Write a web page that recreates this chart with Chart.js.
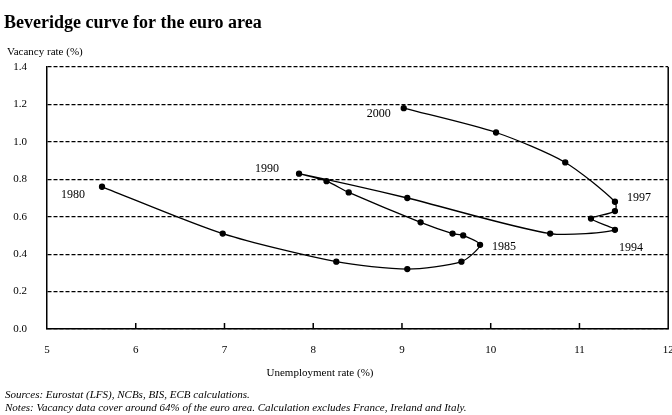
<!DOCTYPE html>
<html>
<head>
<meta charset="utf-8">
<script src="https://cdn.jsdelivr.net/npm/chart.js@4"></script>
<style>
  html, body { margin: 0; padding: 0; background: #fff; }
  #wrap { width: 672px; height: 415px; position: relative; }
</style>
</head>
<body>
<div id="wrap"><canvas id="grafico"></canvas></div>
<script>
// unemployment rate (%) and vacancy rate (%), 1980 -> 2000
const unemployment = [5.62, 6.98, 8.26, 9.06, 9.67, 9.88, 9.69, 9.57, 9.21, 8.40, 8.15, 7.84, 9.06, 10.67, 11.40, 11.13, 11.40, 11.40, 10.84, 10.06, 9.02];
const vacancy = [0.76, 0.51, 0.36, 0.32, 0.36, 0.45, 0.50, 0.51, 0.57, 0.73, 0.79, 0.83, 0.70, 0.51, 0.53, 0.59, 0.63, 0.68, 0.89, 1.05, 1.18];
const yearLabels = [
    { i: 0, text: '1980', dx: -29, dy: 8 },
    { i: 5, text: '1985', dx: 24, dy: 2 },
    { i: 11, text: '1990', dx: -32, dy: -5 },
    { i: 14, text: '1994', dx: 16, dy: 18 },
    { i: 17, text: '1997', dx: 24, dy: -4 },
    { i: 20, text: '2000', dx: -25, dy: 6 }
];
const xTicks = [5, 6, 7, 8, 9, 10, 11, 12];
const yTicks = [0.0, 0.2, 0.4, 0.6, 0.8, 1.0, 1.2, 1.4];

const SERIF = '"Liberation Serif", "DejaVu Serif", serif';

const textos = {
    id: 'textos',
    afterDraw(chart) {
        const c = chart.ctx;
        const area = chart.chartArea;
        const x = chart.scales.x, y = chart.scales.y;
        c.save();
        c.fillStyle = '#000';
        c.textBaseline = 'middle';

        // title + axis captions
        c.textAlign = 'left';
        c.font = 'bold 18px ' + SERIF;
        c.fillText('Beveridge curve for the euro area', 4, 23);
        c.font = '11px ' + SERIF;
        c.fillText('Vacancy rate (%)', 7, 52);
        c.textAlign = 'center';
        c.fillText('Unemployment rate (%)', 320, 373);

        // sources / notes
        c.textAlign = 'left';
        c.font = 'italic 11px ' + SERIF;
        c.fillText('Sources: Eurostat (LFS), NCBs, BIS, ECB calculations.', 5, 395);
        c.fillText('Notes: Vacancy data cover around 64% of the euro area. Calculation excludes France, Ireland and Italy.', 5, 408);

        // year labels next to points
        c.textAlign = 'center';
        c.font = '12px ' + SERIF;
        yearLabels.forEach(l => {
            const px = x.getPixelForValue(unemployment[l.i]);
            const py = y.getPixelForValue(vacancy[l.i]);
            c.fillText(l.text, px + l.dx, py + l.dy);
        });

        // right frame line and small inside ticks on x axis
        c.strokeStyle = '#000';
        c.lineWidth = 1.5;
        c.beginPath();
        c.moveTo(area.right, area.top);
        c.lineTo(area.right, area.bottom);
        xTicks.slice(1, -1).forEach(v => {
            const px = x.getPixelForValue(v);
            c.moveTo(px, area.bottom);
            c.lineTo(px, area.bottom - 6);
        });
        c.stroke();
        c.restore();
    }
};

const ctx = document.getElementById('grafico').getContext('2d');
const myChart = new Chart(ctx, {
    type: 'scatter',
    data: {
        datasets: [{
            data: unemployment.map((u, i) => ({ x: u, y: vacancy[i] })),
            showLine: true,
            borderColor: '#000',
            backgroundColor: '#000',
            borderWidth: 1.3,
            pointRadius: 2.5,
            pointHoverRadius: 2.5,
            tension: 0.25
        }]
    },
    options: {
        responsive: true,
        maintainAspectRatio: false,
        animation: false,
        events: [],
        layout: { padding: { left: 0, right: 2, top: 67, bottom: 35 } },
        plugins: {
            legend: { display: false },
            tooltip: { enabled: false }
        },
        scales: {
            x: {
                type: 'linear',
                min: 5,
                max: 12,
                afterBuildTicks: s => { s.ticks = xTicks.map(v => ({ value: v })); },
                afterFit: s => { s.height = 51; s.paddingLeft = 0; s.paddingRight = 0; },
                grid: { display: false, drawTicks: false },
                border: { display: true, color: '#000', width: 1.5 },
                ticks: {
                    padding: 15,
                    color: '#000',
                    font: { family: SERIF, size: 11 }
                }
            },
            y: {
                type: 'linear',
                min: 0,
                max: 1.4,
                afterBuildTicks: s => { s.ticks = yTicks.map(v => ({ value: v })); },
                afterFit: s => { s.width = 47; s.paddingTop = 0; s.paddingBottom = 0; },
                grid: { color: '#000', lineWidth: 1.2, drawTicks: false },
                border: { display: true, color: '#000', width: 1.5, dash: [4, 2] },
                ticks: {
                    padding: 20,
                    color: '#000',
                    font: { family: SERIF, size: 11 },
                    callback: v => v.toFixed(1)
                }
            }
        }
    },
    plugins: [textos]
});
</script>
</body>
</html>
